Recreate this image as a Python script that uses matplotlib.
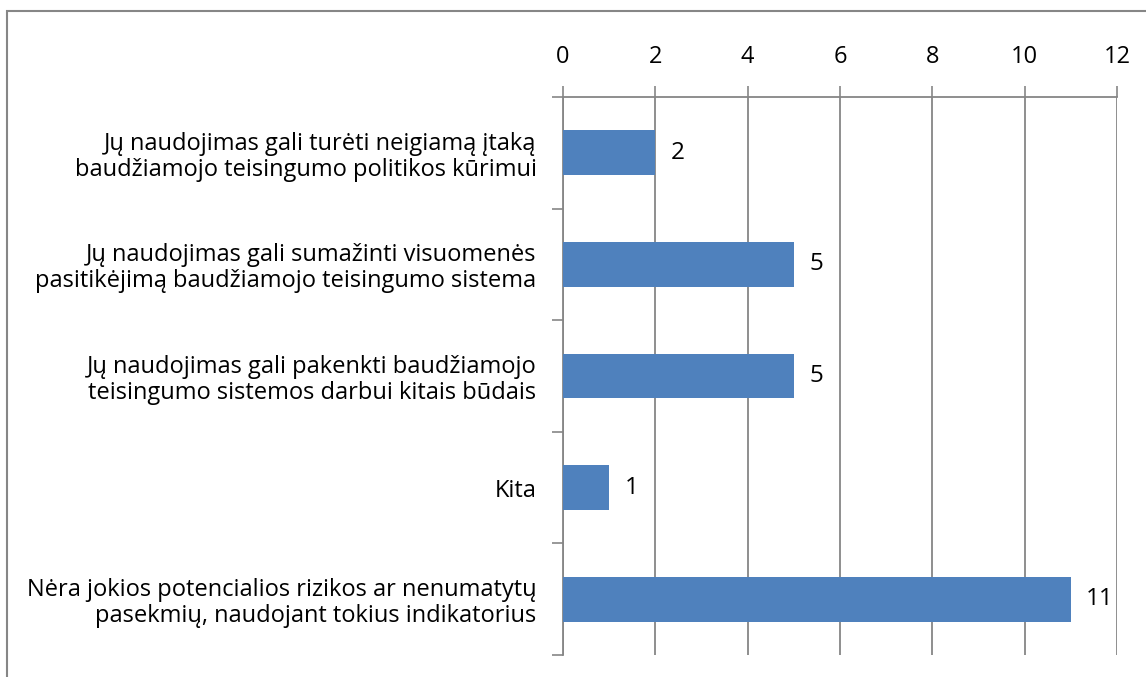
import matplotlib
matplotlib.use("Agg")
import matplotlib.pyplot as plt
from matplotlib.patches import Rectangle
from matplotlib.ticker import FixedLocator

categories = [
    "Jų naudojimas gali turėti neigiamą įtaką\nbaudžiamojo teisingumo politikos kūrimui",
    "Jų naudojimas gali sumažinti visuomenės\npasitikėjimą baudžiamojo teisingumo sistema",
    "Jų naudojimas gali pakenkti baudžiamojo\nteisingumo sistemos darbui kitais būdais",
    "Kita",
    "Nėra jokios potencialios rizikos ar nenumatytų\npasekmių, naudojant tokius indikatorius",
]
values = [2, 5, 5, 1, 11]
xticks = [0, 2, 4, 6, 8, 10, 12]

plt.rcParams['font.family'] = ['Open Sans', 'DejaVu Sans']
FS_CAT = 17
FS_TICK = 17
FS_VAL = 17.5

fig = plt.figure(figsize=(11.46, 6.77), dpi=100)
ax = fig.add_axes([563/1146, 1-655/677, (1117-563)/1146, (655-97)/677])

grey = '#868686'
ypos = list(range(len(categories)))
ax.barh(ypos, values, height=0.4, color='#4F81BD', zorder=3)
ax.set_ylim(len(categories)-0.5, -0.5)
ax.set_xlim(0, 12)
ax.xaxis.set_major_locator(FixedLocator(xticks))
ax.set_xticklabels([str(t) for t in xticks])
ax.xaxis.tick_top()
ax.tick_params(axis='x', which='major', length=8, width=1.2, color=grey, pad=12, labelsize=FS_TICK)
ax.set_yticks(ypos)
ax.set_yticklabels(categories, fontsize=FS_CAT, linespacing=1.1)
ax.tick_params(axis='y', which='major', length=0, pad=19)
ax.set_yticks([i - 0.5 for i in range(len(categories)+1)], minor=True)
ax.tick_params(axis='y', which='minor', length=8, width=1.2, color=grey)
for lbl in ax.get_yticklabels():
    lbl.set_multialignment('right')

ax.grid(axis='x', color=grey, linewidth=1.3, zorder=0)
for s in ['right', 'bottom']:
    ax.spines[s].set_visible(False)
for s in ['top', 'left']:
    ax.spines[s].set_color(grey)
    ax.spines[s].set_linewidth(1.3)

for y, v in zip(ypos, values):
    ax.annotate(str(v), (v, y), xytext=(11, 0), textcoords='offset points',
                va='center', ha='left', fontsize=FS_VAL)

fig.patches.append(Rectangle((7/1146, -0.1), 1.2, 1-11/677+0.1, transform=fig.transFigure,
                             fill=False, edgecolor=grey, linewidth=1.5))

fig.savefig('out.png', dpi=100)
